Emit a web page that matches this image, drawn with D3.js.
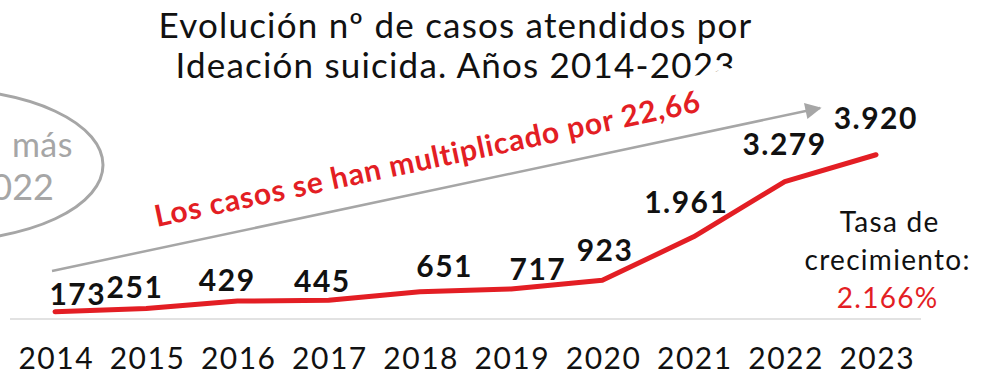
<!DOCTYPE html>
<html>
<head>
<meta charset="utf-8">
<script src="https://cdn.jsdelivr.net/npm/d3@7"></script>
<style>
  html, body { margin: 0; padding: 0; background: #fff; }
  svg { display: block; font-family: Lato, "Noto Sans", sans-serif; }
</style>
</head>
<body>
<svg id="chart" width="986" height="374"></svg>
<script>
// Casos atendidos por ideación suicida, por año
const years = [2014, 2015, 2016, 2017, 2018, 2019, 2020, 2021, 2022, 2023];
const cases = [173, 251, 429, 445, 651, 717, 923, 1961, 3279, 3920];

// Small nudges for each value label (dx, dy from its point)
const labelNudge = [[22, -7], [-12, -10], [-11, -10], [-7, -8], [24, -15],
                    [26, -9], [2, -19], [-8, -24], [-1, -27], [-1, -26]];

const titleLines = ["Evolución nº de casos atendidos por", "Ideación suicida. Años 2014-2023"];
const calloutLines = ["más", "2022"];

const RED = "#e31e24";
const GREY = "#a6a6a6";

const es = d3.formatLocale({ decimal: ",", thousands: ".", grouping: [3], currency: ["", " €"] });
const fmtInt = es.format(",d");
const fmtFactor = es.format(",.2f");

const first = cases[0], last = cases[cases.length - 1];
const factor = last / first;
const growthPct = Math.round((last - first) / first * 100);

const svg = d3.select("#chart");

const x = d3.scalePoint().domain(years).range([55, 876]);
const y = d3.scaleLinear().domain([0, 4000]).range([319, 151.4]);

// Centred text with letter-spacing: shift by half a gap to stay centred
function spaced(sel, ls) {
  return sel.attr("letter-spacing", ls).attr("dx", ls / 2);
}

// Title
spaced(svg.append("g").selectAll("text").data(titleLines).join("text"), 1.2)
  .attr("x", 455).attr("y", (d, i) => 38 + i * 40)
  .attr("text-anchor", "middle")
  .attr("font-size", 35).attr("fill", "#111")
  .text(d => d);

// Callout bubble on the left
svg.append("ellipse")
  .attr("cx", -60).attr("cy", 165).attr("rx", 163).attr("ry", 76)
  .attr("fill", "none").attr("stroke", GREY).attr("stroke-width", 3);
svg.append("text").attr("x", 73).attr("y", 157).attr("text-anchor", "end")
  .attr("font-size", 34).attr("fill", GREY).attr("letter-spacing", 0.5).text(calloutLines[0]);
svg.append("text").attr("x", 54).attr("y", 200).attr("text-anchor", "end")
  .attr("font-size", 36).attr("fill", GREY).text(calloutLines[1]);

// Rotated annotation with its white text box
const note = svg.append("g").attr("transform", "translate(157,227) rotate(-12)");
note.append("rect").attr("x", -8).attr("y", -36).attr("width", 625).attr("height", 46).attr("fill", "#fff");
note.append("text").attr("x", 0).attr("y", 0)
  .attr("font-size", 30).attr("font-weight", 700).attr("fill", RED)
  .attr("letter-spacing", 0.8)
  .text(`Los casos se han multiplicado por ${fmtFactor(factor)}`);

// Trend arrow
svg.append("defs").append("marker")
  .attr("id", "arrowhead").attr("viewBox", "0 0 10 10")
  .attr("refX", 9).attr("refY", 5)
  .attr("markerWidth", 8).attr("markerHeight", 6.5)
  .attr("markerUnits", "strokeWidth").attr("orient", "auto")
  .append("path").attr("d", "M0,0 L10,5 L0,10 Z").attr("fill", GREY);
svg.append("line")
  .attr("x1", 52).attr("y1", 271).attr("x2", 820).attr("y2", 108)
  .attr("stroke", GREY).attr("stroke-width", 2.5)
  .attr("marker-end", "url(#arrowhead)");

// Baseline
svg.append("line")
  .attr("x1", 10).attr("x2", 921).attr("y1", y(0)).attr("y2", y(0))
  .attr("stroke", "#d9d9d9").attr("stroke-width", 1.5);

// Year axis
const axis = svg.append("g")
  .attr("transform", `translate(0,${y(0)})`)
  .call(d3.axisBottom(x).tickSize(0).tickPadding(29).tickFormat(d3.format("d")));
axis.select(".domain").remove();
spaced(axis.selectAll("text"), 1.5)
  .attr("font-size", 30).attr("fill", "#111")
  .attr("font-family", "Lato, 'Noto Sans', sans-serif");

// Series line
const data = years.map((yr, i) => ({ yr, v: cases[i], nudge: labelNudge[i] }));
svg.append("path").datum(data)
  .attr("fill", "none").attr("stroke", RED).attr("stroke-width", 5)
  .attr("stroke-linecap", "round").attr("stroke-linejoin", "round")
  .attr("d", d3.line().x(d => x(d.yr)).y(d => y(d.v)));

// Value labels
spaced(svg.append("g").selectAll("text").data(data).join("text"), 1.5)
  .attr("x", d => x(d.yr) + d.nudge[0])
  .attr("y", d => y(d.v) + d.nudge[1])
  .attr("text-anchor", "middle")
  .attr("font-size", 30).attr("font-weight", 700).attr("fill", "#111")
  .text(d => fmtInt(d.v));

// Growth rate note
const rate = svg.append("g").attr("text-anchor", "middle").attr("font-size", 28);
spaced(rate.append("text"), 1.3).attr("x", 889).attr("y", 232).attr("fill", "#111").text("Tasa de");
spaced(rate.append("text"), 1.3).attr("x", 887).attr("y", 270).attr("fill", "#111").text("crecimiento:");
spaced(rate.append("text"), 1.3).attr("x", 887).attr("y", 308).attr("fill", RED).text(`${fmtInt(growthPct)}%`);
</script>
</body>
</html>
